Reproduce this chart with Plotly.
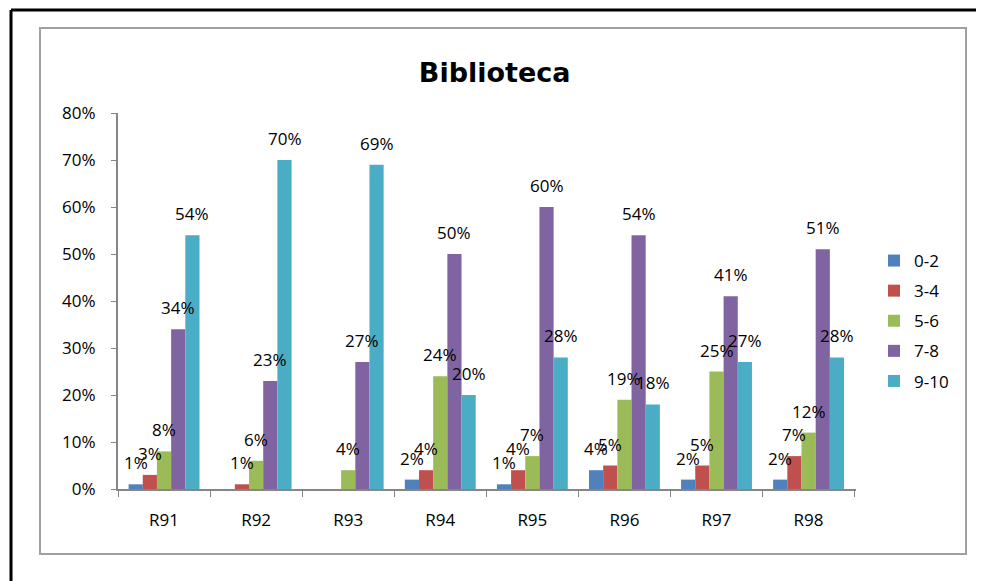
import plotly.graph_objects as go

# Data
categories = ['R91', 'R92', 'R93', 'R94', 'R95', 'R96', 'R97', 'R98']
series_names = ['0-2', '3-4', '5-6', '7-8', '9-10']
v_0_2 = [1, 0, 0, 2, 1, 4, 2, 2]
v_3_4 = [3, 1, 0, 4, 4, 5, 5, 7]
v_5_6 = [8, 6, 4, 24, 7, 19, 25, 12]
v_7_8 = [34, 23, 27, 50, 60, 54, 41, 51]
v_9_10 = [54, 70, 69, 20, 28, 18, 27, 28]
y_ticks = [0, 10, 20, 30, 40, 50, 60, 70, 80]

series_values = [v_0_2, v_3_4, v_5_6, v_7_8, v_9_10]
colors = ['#4F81BD', '#C0504D', '#9BBB59', '#8064A2', '#4BACC6']

FONT = 'Open Sans, sans-serif'
TITLE_FONT = 'DejaVu Sans, sans-serif'

# the page has an 8px body margin, so the figure sits 8px right/down
OFF = 8
L, R, T, B = 118 - OFF, 856 - OFF, 113 - OFF, 489 - OFF
W, H = 984, 581
BARGAP = 0.23

def px(X):
    return (X - OFF - L) / (R - L)
def py(Y):
    return (B - (Y - OFF)) / (B - T)

fig = go.Figure()
annotations = []
n = len(series_names)
bar_w = (R - L) / len(categories) * (1 - BARGAP) / n
for i, (name, vals, col) in enumerate(zip(series_names, series_values, colors)):
    fig.add_trace(go.Bar(
        x=categories,
        y=vals,
        name=name,
        legendgroup=name,
        marker=dict(color=col, line=dict(width=0)),
    ))
    # Excel-style value labels, sitting a little above each bar
    for c, v in zip(categories, vals):
        if not v:
            continue
        annotations.append(dict(
            x=c, y=v, xref='x', yref='y', text=f'{v}%', showarrow=False,
            xanchor='center', yanchor='bottom',
            xshift=(i - (n - 1) / 2) * bar_w, yshift=8,
            font=dict(size=17, color='black', family=FONT),
        ))

fig.update_layout(
    width=W, height=H,
    margin=dict(l=L, r=W - R, t=T, b=H - B, pad=0),
    paper_bgcolor='white', plot_bgcolor='white',
    barmode='group', bargap=BARGAP, bargroupgap=0,
    title=dict(text='<b>Biblioteca</b>', x=px(483), xanchor='center',
               y=1 - (73 - OFF) / H, yanchor='middle',
               font=dict(size=27, color='black', family=TITLE_FONT)),
    font=dict(family=FONT, size=17, color='black'),
    showlegend=True,
    legend=dict(x=px(874), xanchor='left', y=py(321), yanchor='middle',
                font=dict(size=17, family=FONT), itemwidth=30,
                tracegroupgap=5, bgcolor='rgba(0,0,0,0)'),
    annotations=annotations,
    shapes=[
        dict(type='rect', xref='paper', yref='paper',
             x0=px(40), x1=px(966), y0=py(554), y1=py(28),
             line=dict(color='#A0A0A0', width=2), layer='below'),
        dict(type='line', xref='paper', yref='paper',
             x0=px(11), x1=px(1000), y0=py(10), y1=py(10),
             line=dict(color='black', width=3)),
        dict(type='line', xref='paper', yref='paper',
             x0=px(11), x1=px(11), y0=py(10), y1=py(600),
             line=dict(color='black', width=3)),
    ],
)

fig.update_xaxes(
    showline=True, linecolor='#868686', linewidth=2,
    ticks='outside', tickson='boundaries', ticklen=6, tickcolor='#868686',
    tickfont=dict(size=17, family=FONT), showgrid=False,
    ticklabelstandoff=15,
)
fig.update_yaxes(
    range=[0, 80], tickvals=y_ticks, ticktext=[f'{t}%' for t in y_ticks],
    showline=True, linecolor='#868686', linewidth=2,
    ticks='outside', ticklen=5, tickcolor='#868686',
    tickfont=dict(size=17, family=FONT), showgrid=False, zeroline=False,
    ticklabelstandoff=12,
)

fig.write_html('out.html')
